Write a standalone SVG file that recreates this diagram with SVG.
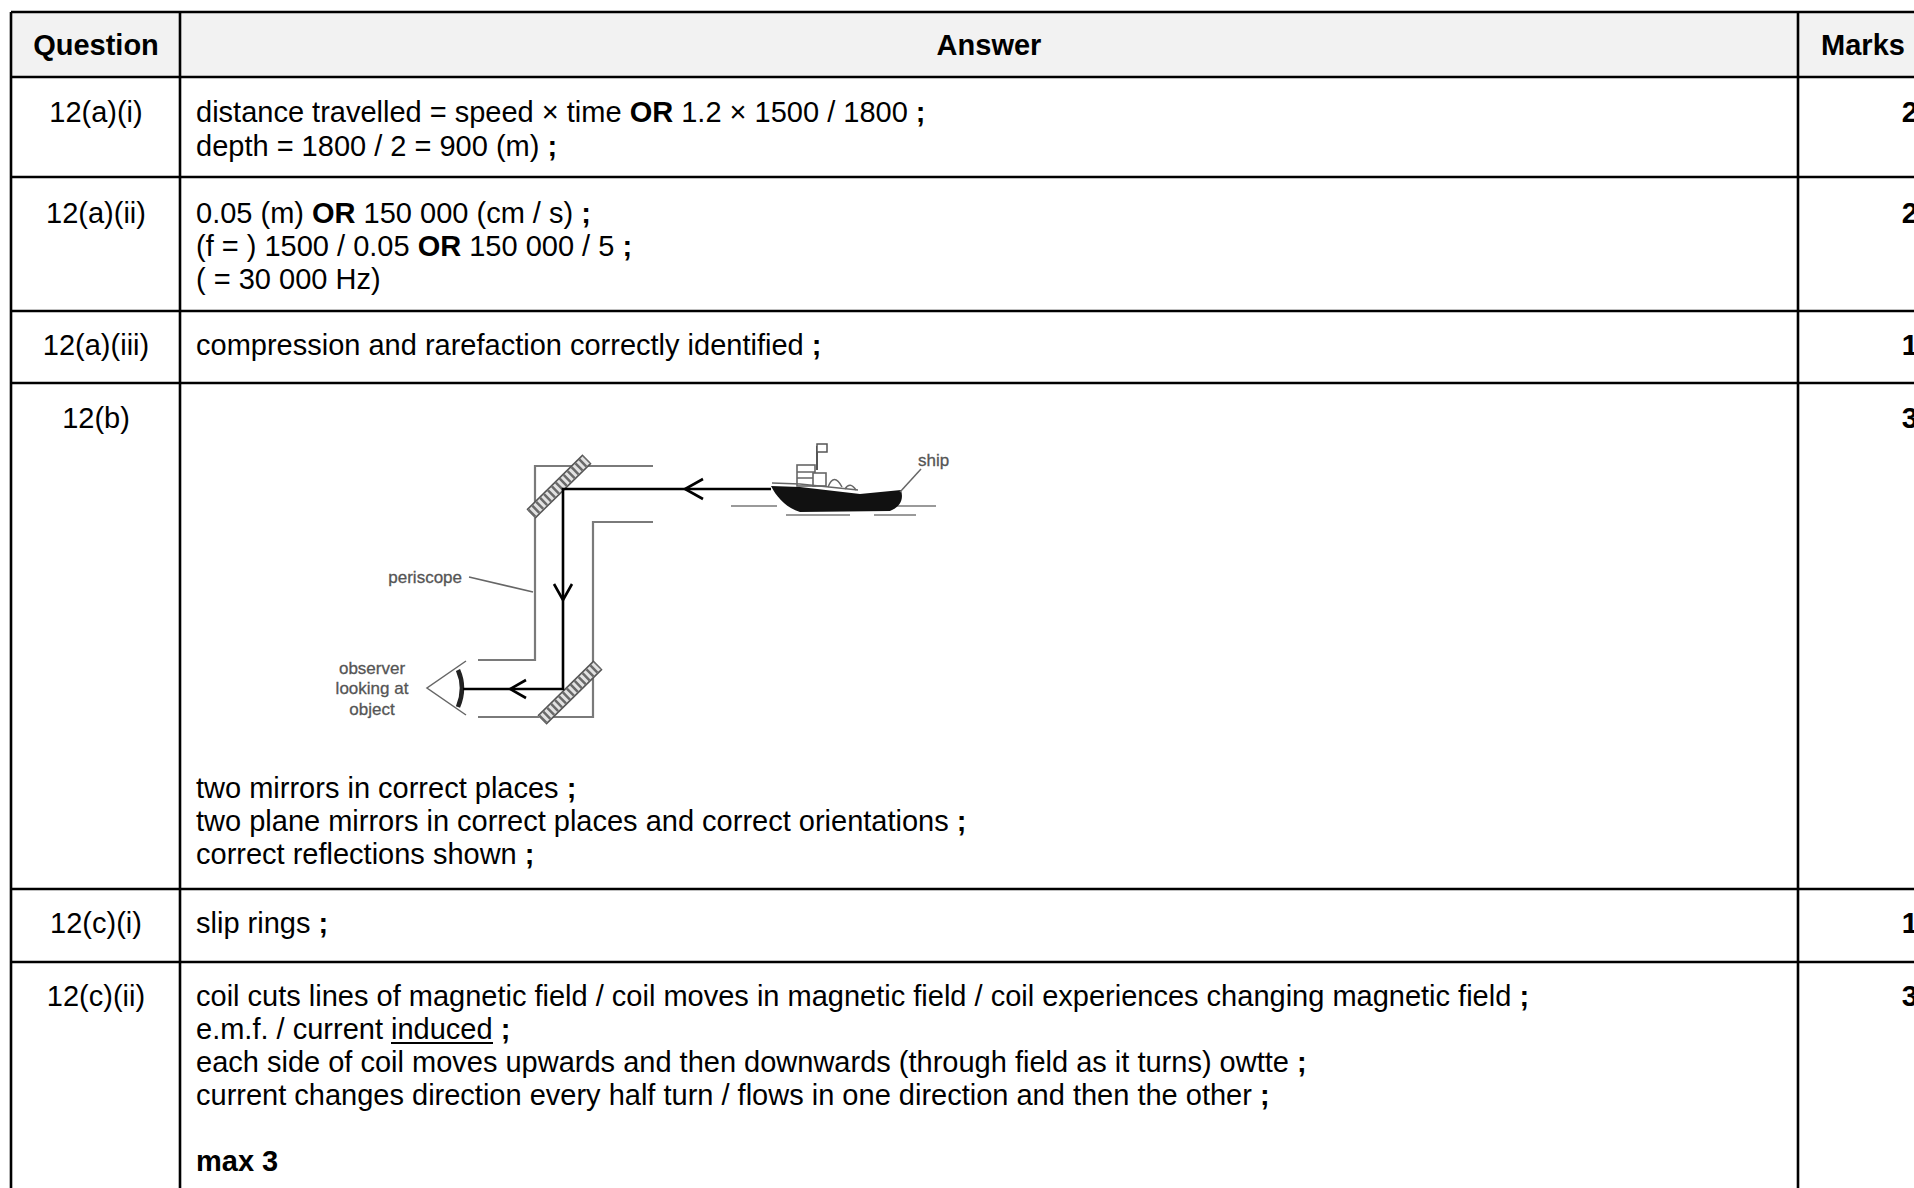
<svg xmlns="http://www.w3.org/2000/svg" width="1914" height="1188" viewBox="0 0 1914 1188">
<style>
.t{font-family:"Liberation Sans",Arial,sans-serif;font-size:29px;fill:#000}
.b{font-weight:bold}
.c{text-anchor:middle}
.e{text-anchor:end}
.grid{stroke:#000;stroke-width:2.6;fill:none}
.wall{stroke:#7a7a7a;stroke-width:2.2;fill:none}
.ray{stroke:#000;stroke-width:2.6;fill:none}
.lbl{font-family:"Liberation Sans",Arial,sans-serif;font-size:17px;fill:#555;stroke:#555;stroke-width:0.3}
.thin{stroke:#666;stroke-width:1.5;fill:none}
.mo{stroke:#555;stroke-width:13}
.mf{stroke:#e2e2e2;stroke-width:10}
.mh{stroke:#6a6a6a;stroke-width:10;stroke-dasharray:2.5 3}
</style>
<rect width="1914" height="1188" fill="#fff"/>
<g id="table">
<rect x="11" y="12" width="1910" height="65" fill="#f2f2f2"/>
<path class="grid" d="M11,12 H1914 M11,77 H1914 M11,177 H1914 M11,311 H1914 M11,383 H1914 M11,889 H1914 M11,962 H1914 M11,12 V1188 M180,12 V1188 M1798,12 V1188"/>
</g>
<g id="header">
<text class="t b c" x="96" y="55">Question</text>
<text class="t b c" x="989" y="55">Answer</text>
<text class="t b c" x="1863" y="55">Marks</text>
</g>
<g id="row-a-i">
<text class="t c" x="96" y="122">12(a)(i)</text>
<text class="t" x="196" y="122">distance travelled = speed × time <tspan class="b">OR</tspan> 1.2 × 1500 / 1800 <tspan class="b">;</tspan></text>
<text class="t" x="196" y="156">depth = 1800 / 2 = 900 (m) <tspan class="b">;</tspan></text>
<text class="t b e" x="1918" y="122">2</text>
</g>
<g id="row-a-ii">
<text class="t c" x="96" y="223">12(a)(ii)</text>
<text class="t" x="196" y="223">0.05 (m) <tspan class="b">OR</tspan> 150 000 (cm / s) <tspan class="b">;</tspan></text>
<text class="t" x="196" y="256">(f = ) 1500 / 0.05 <tspan class="b">OR</tspan> 150 000 / 5 <tspan class="b">;</tspan></text>
<text class="t" x="196" y="289">( = 30 000 Hz)</text>
<text class="t b e" x="1918" y="223">2</text>
</g>
<g id="row-a-iii">
<text class="t c" x="96" y="355">12(a)(iii)</text>
<text class="t" x="196" y="355">compression and rarefaction correctly identified <tspan class="b">;</tspan></text>
<text class="t b e" x="1918" y="355">1</text>
</g>
<g id="row-b">
<text class="t c" x="96" y="428">12(b)</text>
<text class="t b e" x="1918" y="428">3</text>
<text class="t" x="196" y="798">two mirrors in correct places <tspan class="b">;</tspan></text>
<text class="t" x="196" y="831">two plane mirrors in correct places and correct orientations <tspan class="b">;</tspan></text>
<text class="t" x="196" y="864">correct reflections shown <tspan class="b">;</tspan></text>
</g>
<g id="periscope">
<path class="wall" d="M653,466 H535 V660 H478"/>
<path class="wall" d="M653,522 H593 V717 H478"/>
<g id="mirror-top">
<line class="mo" x1="531" y1="514" x2="587" y2="459"/>
<line class="mf" x1="531" y1="514" x2="587" y2="459"/>
<line class="mh" x1="531" y1="514" x2="587" y2="459"/>
</g>
<g id="mirror-bottom">
<line class="mo" x1="542" y1="720" x2="598" y2="665"/>
<line class="mf" x1="542" y1="720" x2="598" y2="665"/>
<line class="mh" x1="542" y1="720" x2="598" y2="665"/>
</g>
<g id="eye">
<path class="thin" d="M466,661 L427,688 L466,715"/>
<path d="M458,670 Q466,688 458,707" stroke="#222" stroke-width="4.5" fill="none"/>
</g>
<text class="lbl e" x="462" y="583">periscope</text>
<line class="thin" x1="469" y1="577" x2="533" y2="592"/>
<text class="lbl c" x="372" y="674">observer</text>
<text class="lbl c" x="372" y="694">looking at</text>
<text class="lbl c" x="372" y="715">object</text>
</g>
<g id="ship">
<path d="M731,506 H777 M893,506 H936 M786,515 H850 M874,515 H916" stroke="#9a9a9a" stroke-width="2.2" fill="none"/>
<rect x="797" y="465" width="18" height="21" fill="#fff" stroke="#666" stroke-width="1.6"/>
<path d="M797,472 H815 M797,478 H815" class="thin"/>
<rect x="813" y="473" width="13" height="13" fill="#fff" stroke="#666" stroke-width="1.6"/>
<path d="M828,487 Q834,472 842,487" class="thin"/>
<path d="M845,489 Q850,481 856,490" class="thin"/>
<line x1="817" y1="446" x2="817" y2="470" stroke="#555" stroke-width="2"/>
<rect x="817" y="444" width="10" height="8" fill="#fff" stroke="#555" stroke-width="1.5"/>
<path d="M772,483 L800,484 L858,490" class="thin"/>
<path d="M771,486 L800,487 L860,494 L901,490 C904,500 900,507 890,511 L800,512 C787,508 777,498 771,486 Z" fill="#111"/>
<text class="lbl" x="918" y="466">ship</text>
<line class="thin" x1="921" y1="469" x2="900" y2="492"/>
</g>
<g id="connectors">
<path class="ray" d="M771,489 H563 V689 H463"/>
<path class="ray" d="M703,479 L685,489 L703,499"/>
<path class="ray" d="M554,584 L563,600 L572,584"/>
<path class="ray" d="M526,680 L510,689 L526,698"/>
</g>
<g id="row-c-i">
<text class="t c" x="96" y="933">12(c)(i)</text>
<text class="t" x="196" y="933">slip rings <tspan class="b">;</tspan></text>
<text class="t b e" x="1918" y="933">1</text>
</g>
<g id="row-c-ii">
<text class="t c" x="96" y="1006">12(c)(ii)</text>
<text class="t" x="196" y="1006">coil cuts lines of magnetic field / coil moves in magnetic field / coil experiences changing magnetic field <tspan class="b">;</tspan></text>
<text class="t" x="196" y="1039">e.m.f. / current induced <tspan class="b">;</tspan></text>
<line x1="391" y1="1043" x2="493" y2="1043" stroke="#000" stroke-width="2"/>
<text class="t" x="196" y="1072">each side of coil moves upwards and then downwards (through field as it turns) owtte <tspan class="b">;</tspan></text>
<text class="t" x="196" y="1105">current changes direction every half turn / flows in one direction and then the other <tspan class="b">;</tspan></text>
<text class="t b" x="196" y="1171">max 3</text>
<text class="t b e" x="1918" y="1006">3</text>
</g>
</svg>
